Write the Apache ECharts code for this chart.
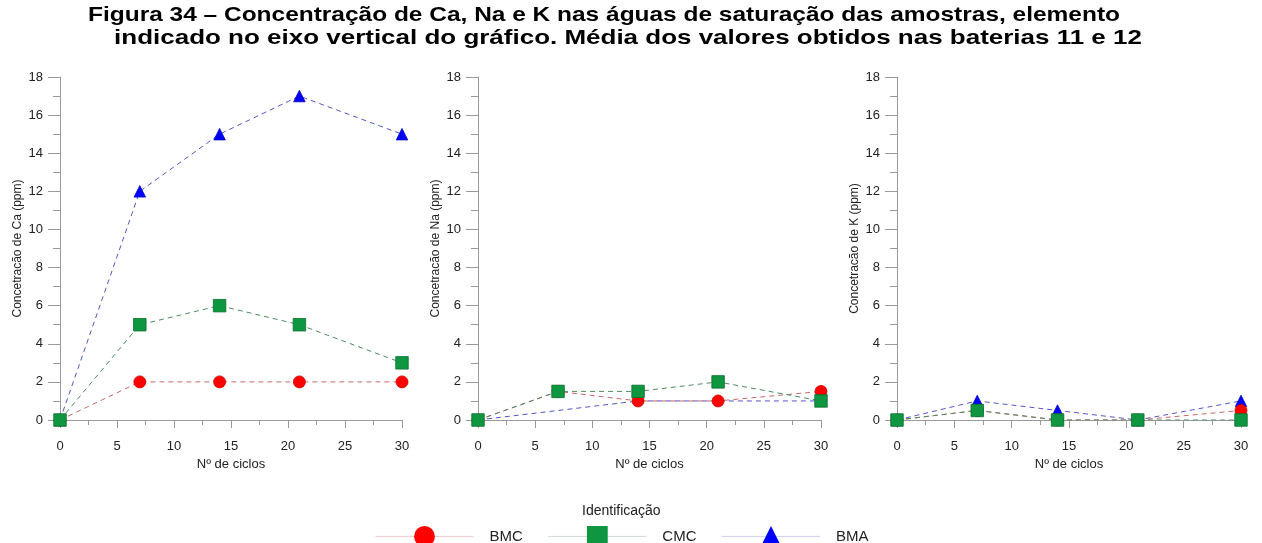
<!DOCTYPE html>
<html>
<head>
<meta charset="utf-8">
<script src="https://cdn.jsdelivr.net/npm/echarts@6/dist/echarts.min.js"></script>
<style>html,body{margin:0;padding:0;background:#fff}#c{width:1262px;height:543px}</style>
</head>
<body>
<div id="c"></div>
<script>
// Ciclos (x) and concentrations (ppm)
const cycles = [0, 7, 14, 21, 30];
const caBMC = [0, 2, 2, 2, 2];
const caCMC = [0, 5, 6, 5, 3];
const caBMA = [0, 12, 15, 17, 15];
const naBMC = [0, 1.5, 1, 1, 1.5];
const naCMC = [0, 1.5, 1.5, 2, 1];
const naBMA = [0, null, 1, 1, 1];
const kBMC = [0, 0.5, 0, 0, 0.5];
const kCMC = [0, 0.5, 0, 0, 0];
const kBMA = [0, 1, 0.5, 0, 1];
const yNames = ['Concetracão de Ca (ppm)', 'Concetracão de Na (ppm)', 'Concetracão de K (ppm)'];
const seriesNames = ['BMC', 'CMC', 'BMA'];
const titleLines = [
  'Figura 34 – Concentração de Ca, Na e K nas águas de saturação das amostras, elemento',
  'indicado no eixo vertical do gráfico. Média dos valores obtidos nas baterias 11 e 12'
];

function pairs(vals) {
  const out = [];
  vals.forEach((v, i) => { if (v !== null) out.push([cycles[i], v]); });
  return out;
}

const styleBy = {
  BMC: { symbol: 'circle', size: 12, color: '#ff0000', border: '#d00000', line: '#c86a6a', legendLine: '#f3c9c9' },
  CMC: { symbol: 'rect', size: 12.5, color: '#0e9640', border: '#0a6e2e', line: '#4f8a64', legendLine: '#cfd8d2' },
  BMA: { symbol: 'triangle', size: 11.5, color: '#0000ff', border: '#0000cc', line: '#5656c8', legendLine: '#cdd0ee' }
};

const grids = [
  { left: 60, width: 342, top: 77, height: 343 },
  { left: 478, width: 343, top: 77, height: 343 },
  { left: 897, width: 344, top: 77, height: 343 }
];

const axisGray = '#9a9a9a';
const xAxes = grids.map((g, i) => ({
  gridIndex: i, type: 'value', min: 0, max: 30, interval: 5,
  name: 'Nº de ciclos', nameLocation: 'middle', nameGap: 34,
  nameTextStyle: { fontFamily: 'Liberation Sans', fontSize: 13, color: '#222' },
  axisLine: { show: true, onZero: false, lineStyle: { color: axisGray, width: 1 } },
  axisTick: { show: true, length: 8, lineStyle: { color: axisGray } },
  minorTick: { show: true, splitNumber: 2, length: 5, lineStyle: { color: axisGray } },
  axisLabel: { margin: 20, fontFamily: 'Liberation Sans', fontSize: 13, color: '#222' },
  splitLine: { show: false }
}));
const yAxes = grids.map((g, i) => ({
  gridIndex: i, type: 'value', min: 0, max: 18, interval: 2,
  name: yNames[i], nameLocation: 'middle', nameGap: 36,
  nameTextStyle: { fontFamily: 'Liberation Sans', fontSize: 12, color: '#222' },
  axisLine: { show: true, lineStyle: { color: axisGray, width: 1 } },
  axisTick: { show: true, length: 12, lineStyle: { color: axisGray } },
  minorTick: { show: true, splitNumber: 2, length: 7, lineStyle: { color: axisGray } },
  axisLabel: { margin: 17, fontFamily: 'Liberation Sans', fontSize: 13, color: '#222' },
  splitLine: { show: false }
}));

function mk(name, vals, gi, extra) {
  const s = styleBy[name];
  return Object.assign({
    name: name, type: 'line', xAxisIndex: gi, yAxisIndex: gi,
    data: pairs(vals), connectNulls: true,
    symbol: s.symbol, symbolSize: s.size,
    itemStyle: { color: s.color, borderColor: s.border, borderWidth: 0.8 },
    lineStyle: { color: s.line, width: 1, type: [5, 4] },
    animation: false, z: 2
  }, extra || {});
}
const series = [
  mk('BMC', caBMC, 0), mk('BMA', caBMA, 0), mk('CMC', caCMC, 0),
  mk('BMA', naBMA, 1, { showSymbol: false }), mk('BMC', naBMC, 1), mk('CMC', naCMC, 1),
  mk('BMA', kBMA, 2), mk('BMC', kBMC, 2), mk('CMC', kCMC, 2)
];

const titleStyle = { fontFamily: 'Liberation Sans', fontSize: 21, fontWeight: 'bold', fill: '#000',
  textAlign: 'center', textVerticalAlign: 'middle' };

const option = {
  backgroundColor: '#fff',
  animation: false,
  title: [
    { text: 'Identificação', left: 577, top: 499,
      textStyle: { fontFamily: 'Liberation Sans', fontSize: 14, fontWeight: 'normal', color: '#222' } }
  ],
  graphic: [
    { type: 'text', x: 604, y: 15, scaleX: 1.165, style: Object.assign({ text: titleLines[0] }, titleStyle) },
    { type: 'text', x: 628, y: 38, scaleX: 1.237, style: Object.assign({ text: titleLines[1] }, titleStyle) }
  ],
  grid: grids,
  xAxis: xAxes,
  yAxis: yAxes,
  legend: {
    left: 370, top: 521, itemWidth: 98, itemHeight: 26, itemGap: 25,
    selectedMode: false,
    textStyle: { fontFamily: 'Liberation Sans', fontSize: 15, color: '#222', padding: [0, 0, 0, 11] },
    data: seriesNames.map(n => ({ name: n, lineStyle: { color: styleBy[n].legendLine, width: 1, type: 'solid' },
      itemStyle: { color: styleBy[n].color, borderWidth: 0 } }))
  },
  series: series
};
const chart = echarts.init(document.getElementById('c'), null, { renderer: 'canvas' });
chart.setOption(option);
</script>
</body>
</html>
